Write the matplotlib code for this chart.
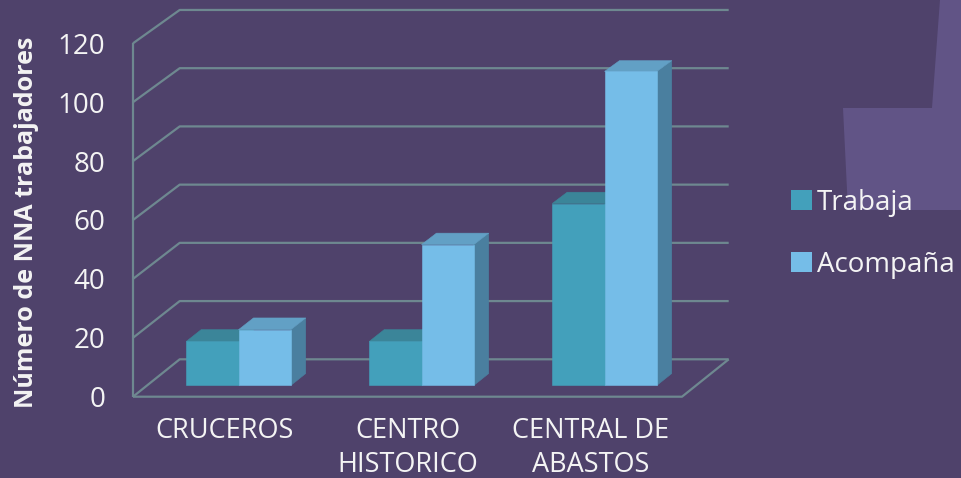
import matplotlib
matplotlib.use('Agg')
import matplotlib.pyplot as plt
from matplotlib.patches import Polygon, Patch

# ---- data ----
categories = ['CRUCEROS', 'CENTRO\nHISTORICO', 'CENTRAL DE\nABASTOS']
series_names = ['Trabaja', 'Acompaña']
trabaja = [15, 15, 62]
acompana = [19, 48, 107]
yticks = [0, 20, 40, 60, 80, 100, 120]
ylabel = 'Número de NNA trabajadores'

# ---- style ----
BG = '#4f426b'
DECOR = '#615486'
GRID = '#6e8890'
TXT = '#f4f4f4'
FRONT = ['#43a0bb', '#75bde8']
TOP = ['#3b8599', '#62a0c5']
SIDE = ['#367a8e', '#4a7f9f']
FONT = 'Open Sans'

W, H = 962, 478
fig = plt.figure(figsize=(W / 100, H / 100), dpi=100)
fig.patch.set_facecolor(BG)

# background decoration
bg = fig.add_axes([0, 0, 1, 1])
bg.set_xlim(0, W)
bg.set_ylim(H, 0)
bg.axis('off')
bg.add_patch(Polygon([(940, 0), (962, 0), (962, 210), (848, 210), (843, 108), (932, 108)],
                     closed=True, facecolor=DECOR, edgecolor='none'))

# main axes = front plane of the 3D box
x0, x1 = 133, 682
yb, yt = 396.7, 43.3
ax = fig.add_axes([x0 / W, 1 - yb / H, (x1 - x0) / W, (yb - yt) / H])
ax.set_facecolor('none')
ncat = len(categories)
ax.set_xlim(0, ncat)
ax.set_ylim(0, yticks[-1])
for s in ax.spines.values():
    s.set_visible(False)

DX = 46.7 / ((x1 - x0) / ncat)          # depth offset in category units
DY = 37.4 / ((yb - yt) / yticks[-1])   # depth offset in value units
K = 0.0115                              # slight perspective shrink

def proj(x, v, d):
    return (x + d * DX, v * (1 - K * d) + d * DY)

gkw = dict(color=GRID, lw=1.6, clip_on=False, zorder=1, solid_capstyle='butt')
# back wall gridlines + left wall diagonals
for v in yticks:
    pts = [proj(0, v, 0), proj(0, v, 1), proj(ncat, v, 1)]
    ax.plot([p[0] for p in pts], [p[1] for p in pts], **gkw)
# left front vertical
ax.plot([0, 0], [0, yticks[-1]], **gkw)
# floor front and right edges
pts = [proj(0, 0, 0), proj(ncat, 0, 0), proj(ncat, 0, 1)]
ax.plot([p[0] for p in pts], [p[1] for p in pts], **gkw)

# bars
bw = 1 / 3.5
d0, d1 = 0.30, 0.62
series = [trabaja, acompana]
z = 3
for ci in range(ncat):
    c = ci + 0.5
    for si, vals in enumerate(series):
        v = vals[ci]
        xl = c - bw + si * bw
        xr = xl + bw
        side = [proj(xr, 0, d0), proj(xr, 0, d1), proj(xr, v, d1), proj(xr, v, d0)]
        top = [proj(xl, v, d0), proj(xr, v, d0), proj(xr, v, d1), proj(xl, v, d1)]
        front = [proj(xl, 0, d0), proj(xr, 0, d0), proj(xr, v, d0), proj(xl, v, d0)]
        for poly, col in ((side, SIDE[si]), (top, TOP[si]), (front, FRONT[si])):
            ax.add_patch(Polygon(poly, closed=True, facecolor=col, edgecolor=col,
                                 lw=0.4, clip_on=False, zorder=z))
            z += 1

# ticks
ax.set_yticks(yticks)
ax.set_yticklabels([str(t) for t in yticks])
ax.set_xticks([i + 0.5 for i in range(ncat)])
ax.set_xticklabels(categories, linespacing=1.28)
ax.tick_params(axis='y', length=0, pad=20, labelsize=20, labelcolor=TXT)
ax.tick_params(axis='x', length=0, pad=14.5, labelsize=19.5, labelcolor=TXT)
for lab in ax.get_xticklabels() + ax.get_yticklabels():
    lab.set_fontfamily(FONT)

fig.text(27 / W, 1 - 222 / H, ylabel, rotation=90, ha='center', va='center',
         fontsize=18, fontweight='bold', color=TXT, family=FONT)

handles = [Patch(facecolor=FRONT[i], edgecolor='none', label=series_names[i]) for i in range(2)]
leg = ax.legend(handles=handles, loc='upper left', bbox_to_anchor=(790.7 / W, 1 - 189 / H),
                bbox_transform=fig.transFigure, frameon=False, borderpad=0, borderaxespad=0,
                handlelength=0.75, handleheight=0.72, handletextpad=0.2, labelspacing=1.22,
                prop={'family': FONT, 'size': 20})
for t in leg.get_texts():
    t.set_color(TXT)

fig.savefig('out.png', dpi=100, facecolor=BG)
